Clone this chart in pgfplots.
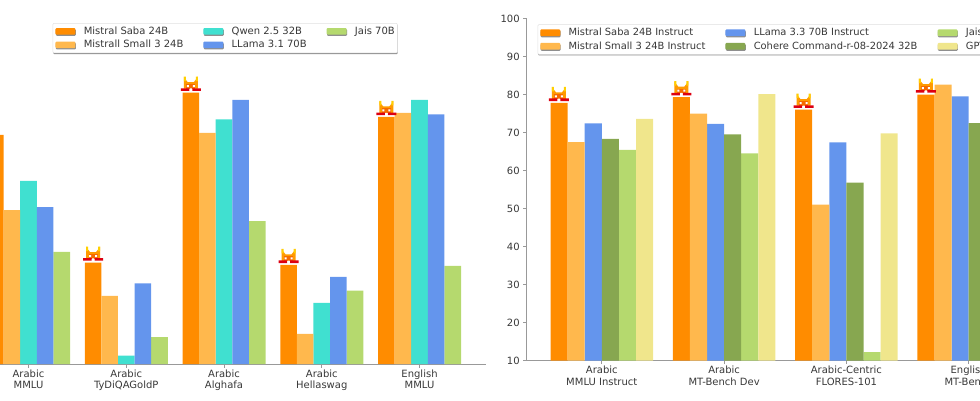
\documentclass[border=0pt]{standalone}
\usepackage{pgfplots}
\pgfplotsset{compat=1.18}
\usepackage{fontspec}
\setmainfont{DejaVu Sans}
\usetikzlibrary{shadows}
\definecolor{cSaba}{HTML}{FF8C00}
\definecolor{cSmall}{HTML}{FFB84D}
\definecolor{cQwen}{HTML}{40E0D0}
\definecolor{cLlama}{HTML}{6495ED}
\definecolor{cJais}{HTML}{B5D96E}
\definecolor{cCohere}{HTML}{87A750}
\definecolor{cGpt}{HTML}{F0E68C}
\definecolor{cTxt}{HTML}{383838}
\definecolor{cSpine}{HTML}{999999}
\definecolor{cRed}{HTML}{DD0011}
\definecolor{cFlame}{HTML}{FF9A00}
\definecolor{cTop}{HTML}{FFD000}
\definecolor{cMid}{HTML}{F56A00}
\pgfdeclareplotmark{cat}{%
  \pgfsetlinewidth{0pt}%
  \pgfsetfillcolor{cFlame}%
  \pgfpathmoveto{\pgfpoint{-7pt}{4pt}}%
  \pgfpathlineto{\pgfpoint{-7pt}{16pt}}%
  \pgfpathlineto{\pgfpoint{-5pt}{13pt}}%
  \pgfpathlineto{\pgfpoint{-3pt}{10.5pt}}%
  \pgfpathlineto{\pgfpoint{3pt}{10.5pt}}%
  \pgfpathlineto{\pgfpoint{5pt}{13pt}}%
  \pgfpathlineto{\pgfpoint{7pt}{16pt}}%
  \pgfpathlineto{\pgfpoint{7pt}{4pt}}%
  \pgfpathclose\pgfusepath{fill}%
  \pgfsetfillcolor{cTop}%
  \pgfpathrectangle{\pgfpoint{-7pt}{11.5pt}}{\pgfpoint{2pt}{4.5pt}}%
  \pgfpathrectangle{\pgfpoint{5pt}{11.5pt}}{\pgfpoint{2pt}{4.5pt}}%
  \pgfusepath{fill}%
  \pgfsetfillcolor{cMid}%
  \pgfpathrectangle{\pgfpoint{-4.5pt}{4pt}}{\pgfpoint{9pt}{4.5pt}}%
  \pgfusepath{fill}%
  \pgfsetfillcolor{cRed}%
  \pgfpathrectangle{\pgfpoint{-10pt}{1.8pt}}{\pgfpoint{8.5pt}{2.6pt}}%
  \pgfpathrectangle{\pgfpoint{1.5pt}{1.8pt}}{\pgfpoint{8.5pt}{2.6pt}}%
  \pgfusepath{fill}%
  \pgfsetfillcolor{white}%
  \pgfpathrectangle{\pgfpoint{-4pt}{5.5pt}}{\pgfpoint{2pt}{2pt}}%
  \pgfpathrectangle{\pgfpoint{2pt}{5.5pt}}{\pgfpoint{2pt}{2pt}}%
  \pgfpathrectangle{\pgfpoint{-1pt}{1.8pt}}{\pgfpoint{2pt}{2.4pt}}%
  \pgfusepath{fill}%
}
\pgfplotsset{
  base/.style={
    scale only axis,
    ymin=10, ymax=100,
    axis x line*=bottom,
    axis line style={cSpine,line width=.9pt,-},
    tick style={cSpine,line width=.7pt},
    tick align=outside,
    major tick length=3.5pt,
    xtick={0,1,2,3,4},
    ticklabel style={text=cTxt,font=\fontsize{10}{11.5}\selectfont},
    x tick label style={align=center,yshift=1.5pt},
    /pgf/number format/assume math mode=true,
    legend cell align=left,
    legend style={
      draw=black!12, fill=white, line width=.5pt, rounded corners=1pt,
      font=\fontsize{10}{11.5}\selectfont,
      text=cTxt,
      drop shadow={shadow xshift=.4pt,shadow yshift=-1.2pt,fill=black!55,opacity=.8},
      inner xsep=2.5pt, inner ysep=2.5pt,
      nodes={inner xsep=0pt, inner ysep=1pt},
      /tikz/every odd column/.append style={column sep=8.3pt},
      /tikz/every even column/.append style={column sep=20pt},
      row sep=2.5pt,
    },
  },
  bar/.style n args={3}{ybar,bar width=#1pt,bar shift=#2pt,fill=#3,draw=none,
    legend image code/.code={\fill[#3,draw=none] (0pt,-3.3pt) rectangle (20pt,3.3pt);}},
}
\begin{document}
\begin{tikzpicture}[x=1pt,y=1pt]
\useasboundingbox (0,0) rectangle (980,400);
\clip (0,0) rectangle (980,400);
\begin{axis}[base, anchor=south west, at={(0pt,36pt)},
  width=486pt, height=346pt, xmin=-0.2916, xmax=4.680, ymax=101.05,
  hide y axis,
  xticklabels={{Arabic\\MMLU},{Arabic\\TyDiQAGoldP},{Arabic\\Alghafa},{Arabic\\Hellaswag},{English\\MMLU}},
  legend columns=3,
  legend style={at={(rel axis cs:0.1085,0.9855)},anchor=north west},
]
\addplot+[bar={16.6}{-33.2}{cSaba},mark=none] coordinates {(0,70.3)(1,36.7)(2,81.4)(3,36.1)(4,75.0)};
\addlegendentry{Mistral Saba 24B}
\addplot+[bar={16.6}{0}{cQwen},mark=none] coordinates {(0,58.2)(1,12.2)(2,74.4)(3,26.1)(4,79.5)};
\addlegendentry{Qwen 2.5 32B}
\addplot+[bar={16.6}{33.2}{cJais},mark=none] coordinates {(0,39.5)(1,17.1)(2,47.6)(3,29.3)(4,35.8)};
\addlegendentry{Jais 70B}
\addplot+[bar={16.6}{-16.6}{cSmall},mark=none] coordinates {(0,50.5)(1,27.9)(2,70.8)(3,17.9)(4,76.1)};
\addlegendentry{Mistrall Small 3 24B}
\addplot+[bar={16.6}{16.6}{cLlama},mark=none] coordinates {(0,51.3)(1,31.2)(2,79.5)(3,32.9)(4,75.7)};
\addlegendentry{LLama 3.1 70B}
\addplot[only marks,mark=cat,forget plot] coordinates {(-0.34,70.3)(0.66,36.7)(1.66,81.4)(2.66,36.1)(3.66,75.0)};
\end{axis}
\begin{axis}[base, anchor=south west, at={(526.7pt,39.5pt)},
  width=460pt, height=342pt, xmin=-0.614, xmax=3.147,
  axis y line*=left,
  ytick={10,20,...,100},
  xticklabels={{Arabic\\MMLU Instruct},{Arabic\\MT-Bench Dev},{Arabic-Centric\\FLORES-101},{English\\MT-Bench}},
  xtick={0,1,2,3},
  legend columns=3,
  legend style={at={(rel axis cs:0.0235,0.9825)},anchor=north west,font=\fontsize{9.9}{11.5}\selectfont},
]
\addplot+[bar={17.1}{-42.75}{cSaba},mark=none] coordinates {(0,77.8)(1,79.3)(2,76.0)(3,80.0)};
\addlegendentry{Mistral Saba 24B Instruct}
\addplot+[bar={17.1}{-8.55}{cLlama},mark=none] coordinates {(0,72.4)(1,72.3)(2,67.4)(3,79.5)};
\addlegendentry{LLama 3.3 70B Instruct}
\addplot+[bar={17.1}{25.65}{cJais},mark=none] coordinates {(0,65.4)(1,64.5)(2,12.2)};
\addlegendentry{Jais\hspace{30pt}}
\addplot+[bar={17.1}{-25.65}{cSmall},mark=none] coordinates {(0,67.5)(1,75.0)(2,51.0)(3,82.6)};
\addlegendentry{Mistral Small 3 24B Instruct}
\addplot+[bar={17.1}{8.55}{cCohere},mark=none] coordinates {(0,68.3)(1,69.5)(2,56.8)(3,72.5)};
\addlegendentry{Cohere Command-r-08-2024 32B}
\addplot+[bar={17.1}{42.75}{cGpt},mark=none] coordinates {(0,73.6)(1,80.1)(2,69.8)};
\addlegendentry{GPT\hspace{30pt}}
\addplot[only marks,mark=cat,forget plot] coordinates {(-0.35,77.8)(0.65,79.3)(1.65,76.0)(2.65,80.0)};
\end{axis}
\end{tikzpicture}
\end{document}
